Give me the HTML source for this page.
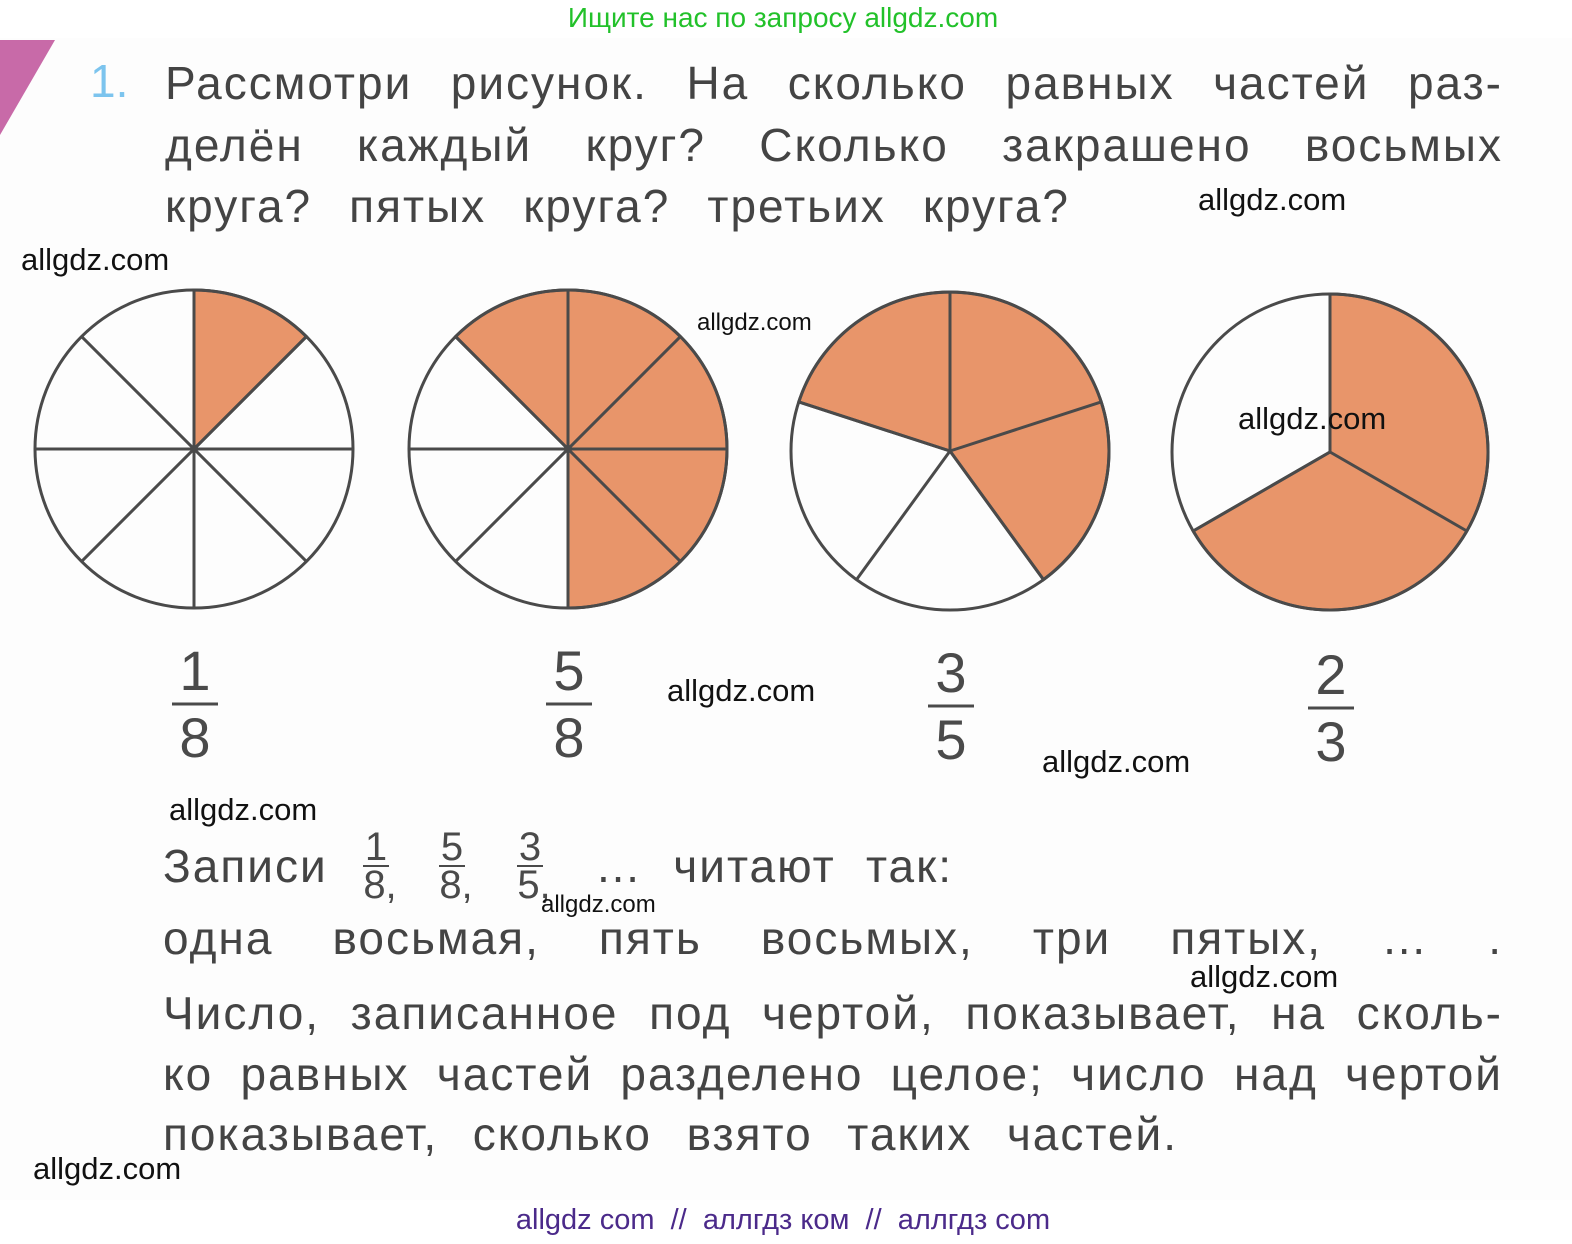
<!DOCTYPE html>
<html><head><meta charset="utf-8"><style>
html,body{margin:0;padding:0;background:#fff;}
svg{display:block;position:absolute;left:0;top:0;}
.t{position:absolute;font-family:"Liberation Sans","DejaVu Sans",sans-serif;font-size:46px;color:#444;letter-spacing:2px;line-height:54px;height:54px;overflow:hidden;text-align:justify;text-align-last:justify;white-space:normal;}
</style></head><body>
<svg width="1572" height="1244" viewBox="0 0 1572 1244" xmlns="http://www.w3.org/2000/svg" font-family="Liberation Sans, DejaVu Sans, sans-serif">
<rect x="0" y="38" width="1572" height="1162" fill="#fdfdfd"/>
<polygon points="0,40 55,40 0,135" fill="#c86aa8"/>
<text x="783" y="27" font-size="28" fill="#22c12a" text-anchor="middle">Ищите нас по запросу allgdz.com</text>
<text x="90" y="97" font-size="46" fill="#7cc4ee">1.</text>
<g font-size="40" fill="#4a4a4a" text-anchor="middle">
<text x="376" y="860">1</text><text x="380" y="898">8,</text><line x1="363" y1="866" x2="389" y2="866" stroke="#4a4a4a" stroke-width="2"/>
<text x="452" y="860">5</text><text x="456" y="898">8,</text><line x1="439" y1="866" x2="465" y2="866" stroke="#4a4a4a" stroke-width="2"/>
<text x="530" y="860">3</text><text x="534" y="898">5,</text><line x1="517" y1="866" x2="543" y2="866" stroke="#4a4a4a" stroke-width="2"/>
</g>
<g font-size="56" fill="#4a4a4a" text-anchor="middle">
<text x="195" y="690">1</text><text x="195" y="757">8</text><line x1="172" y1="704" x2="218" y2="704" stroke="#4a4a4a" stroke-width="3"/>
<text x="569" y="690">5</text><text x="569" y="757">8</text><line x1="546" y1="704" x2="592" y2="704" stroke="#4a4a4a" stroke-width="3"/>
<text x="951" y="692">3</text><text x="951" y="759">5</text><line x1="928" y1="706" x2="974" y2="706" stroke="#4a4a4a" stroke-width="3"/>
<text x="1331" y="694">2</text><text x="1331" y="761">3</text><line x1="1308" y1="708" x2="1354" y2="708" stroke="#4a4a4a" stroke-width="3"/>
</g>
<g stroke="#4a4a4a" stroke-width="3" fill="none">
<path d="M194,449 L194,290 A159,159 0 0 1 306.4,336.6 Z" fill="#e8956a"/>
<circle cx="194" cy="449" r="159"/>
<line x1="194" y1="290" x2="194" y2="608"/><line x1="35" y1="449" x2="353" y2="449"/>
<line x1="81.6" y1="336.6" x2="306.4" y2="561.4"/><line x1="306.4" y1="336.6" x2="81.6" y2="561.4"/>
<path d="M568,449 L455.6,336.6 A159,159 0 0 1 568,290 A159,159 0 0 1 568,608 Z" fill="#e8956a"/>
<circle cx="568" cy="449" r="159"/>
<line x1="568" y1="290" x2="568" y2="608"/><line x1="409" y1="449" x2="727" y2="449"/>
<line x1="455.6" y1="336.6" x2="680.4" y2="561.4"/><line x1="680.4" y1="336.6" x2="455.6" y2="561.4"/>
<path d="M950,451 L798.8,401.9 A159,159 0 0 1 1101.2,401.9 A159,159 0 0 1 1043.5,579.6 Z" fill="#e8956a"/>
<circle cx="950" cy="451" r="159"/>
<line x1="950" y1="451" x2="950" y2="292"/><line x1="950" y1="451" x2="1101.2" y2="401.9"/>
<line x1="950" y1="451" x2="1043.5" y2="579.6"/><line x1="950" y1="451" x2="856.5" y2="579.6"/>
<line x1="950" y1="451" x2="798.8" y2="401.9"/>
<path d="M1330,452 L1330,294 A158,158 0 1 1 1193.2,531 Z" fill="#e8956a"/>
<circle cx="1330" cy="452" r="158"/>
<line x1="1330" y1="452" x2="1330" y2="294"/><line x1="1330" y1="452" x2="1466.8" y2="531"/><line x1="1330" y1="452" x2="1193.2" y2="531"/>
</g>
<g font-size="31" fill="#111">
<text x="1198" y="210">allgdz.com</text>
<text x="21" y="270">allgdz.com</text>
<text x="697" y="330" font-size="24">allgdz.com</text>
<text x="1238" y="429">allgdz.com</text>
<text x="667" y="701">allgdz.com</text>
<text x="1042" y="772">allgdz.com</text>
<text x="169" y="820">allgdz.com</text>
<text x="541" y="912" font-size="24">allgdz.com</text>
<text x="1190" y="987">allgdz.com</text>
<text x="33" y="1179">allgdz.com</text>
</g>
<text x="783" y="1229" font-size="29" fill="#4b2a8a" text-anchor="middle" xml:space="preserve">allgdz com  //  аллгдз ком  //  аллгдз com</text>
</svg>
<div class="t" style="left:165px;top:56px;width:1338px;">Рассмотри рисунок. На сколько равных частей раз-</div>
<div class="t" style="left:165px;top:118px;width:1338px;">делён каждый круг? Сколько закрашено восьмых</div>
<div class="t" style="left:165px;top:179px;width:905px;">круга? пятых круга? третьих круга?</div>
<div class="t" style="left:163px;top:839px;width:160px;">Записи</div>
<div class="t" style="left:595px;top:839px;width:358px;">… читают так:</div>
<div class="t" style="left:163px;top:911px;width:1340px;">одна восьмая, пять восьмых, три пятых, …&nbsp;.</div>
<div class="t" style="left:163px;top:986px;width:1340px;">Число, записанное под чертой, показывает, на сколь-</div>
<div class="t" style="left:163px;top:1047px;width:1340px;">ко равных частей разделено целое; число над чертой</div>
<div class="t" style="left:163px;top:1107px;width:1015px;">показывает, сколько взято таких частей.</div>
</body></html>
